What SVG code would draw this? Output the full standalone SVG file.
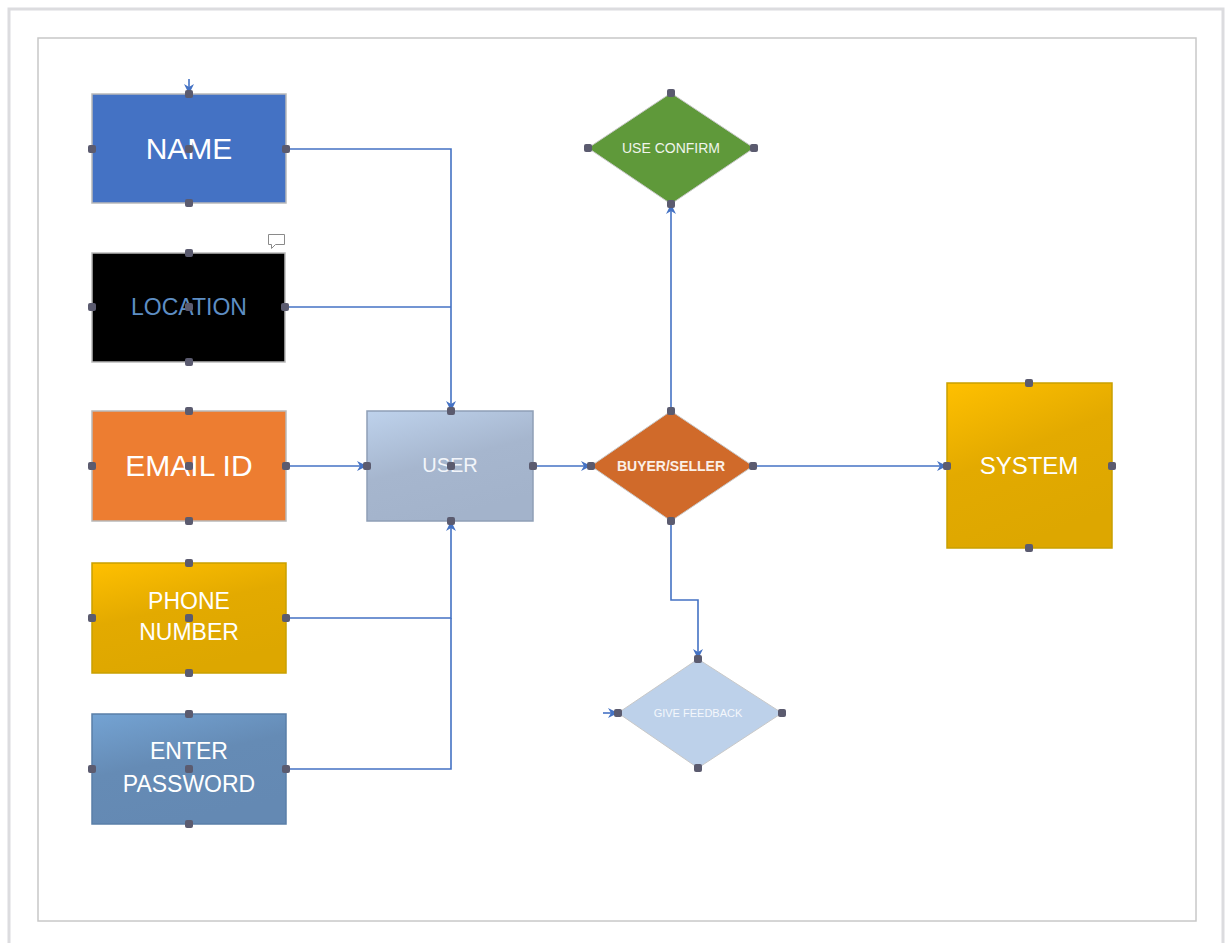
<svg xmlns="http://www.w3.org/2000/svg" width="1225" height="943" viewBox="0 0 1225 943">
<defs>
<linearGradient id="gGold" x1="0" y1="0" x2="0.4" y2="1">
<stop offset="0" stop-color="#FFC000"/><stop offset="0.5" stop-color="#E3AA00"/><stop offset="1" stop-color="#DDA700"/>
</linearGradient>
<linearGradient id="gBlue" x1="0" y1="0" x2="0.4" y2="1">
<stop offset="0" stop-color="#74A3D3"/><stop offset="0.5" stop-color="#658BB5"/><stop offset="1" stop-color="#6489B3"/>
</linearGradient>
<linearGradient id="gUser" x1="0" y1="0" x2="0.4" y2="1">
<stop offset="0" stop-color="#BED2EC"/><stop offset="0.55" stop-color="#A6B6CE"/><stop offset="1" stop-color="#A3B3CB"/>
</linearGradient>
<marker id="arr" viewBox="0 0 10 10" refX="9" refY="5" markerWidth="10" markerHeight="10" markerUnits="userSpaceOnUse" orient="auto">
<path d="M0,0 L10,5 L0,10 L3,5 Z" fill="#4472C4"/>
</marker>
<style>
.frame{fill:none;stroke:#C8C8C8;stroke-width:1.5}
.outer{fill:none;stroke:#DCDCDF;stroke-width:3}
.box{stroke:#B9B9B9;stroke-width:1.5}
.edge{fill:none;stroke:#4472C4;stroke-width:1.6}
.dot{fill:#5B5B6F}
.t{font-family:"Liberation Sans","Open Sans",Arial,sans-serif;fill:#FFFFFF;text-anchor:middle;dominant-baseline:central}
</style>
</defs>
<rect width="1225" height="943" fill="#FFFFFF"/>
<path class="outer" d="M9,943 L9,9 L1223,9 L1223,943"/>
<rect class="frame" x="38" y="38" width="1158" height="883"/>

<g id="connectors">
<path class="edge" d="M286,149 L451,149 L451,410" marker-end="url(#arr)"/>
<path class="edge" d="M285,307 L451,307"/>
<path class="edge" d="M286,466 L366,466" marker-end="url(#arr)"/>
<path class="edge" d="M286,618 L451,618 L451,522" marker-end="url(#arr)"/>
<path class="edge" d="M286,769 L451,769 L451,618"/>
<path class="edge" d="M533,466 L590,466" marker-end="url(#arr)"/>
<path class="edge" d="M671,411 L671,205" marker-end="url(#arr)"/>
<path class="edge" d="M753,466 L946,466" marker-end="url(#arr)"/>
<path class="edge" d="M671,521 L671,600 L698,600 L698,658" marker-end="url(#arr)"/>
<path class="edge" d="M189,79 L189,93" marker-end="url(#arr)"/>
<path class="edge" d="M603,713 L617,713" marker-end="url(#arr)"/>
</g>

<g id="name">
<rect class="box" x="92" y="94" width="194" height="109" fill="#4472C4"/>
<text class="t" x="189" y="148" font-size="30">NAME</text>
<rect class="dot" x="185" y="90" width="8" height="8" rx="2"/>
<rect class="dot" x="88" y="145" width="8" height="8" rx="2"/>
<rect class="dot" x="282" y="145" width="8" height="8" rx="2"/>
<rect class="dot" x="185" y="145" width="8" height="8" rx="2"/>
<rect class="dot" x="185" y="199" width="8" height="8" rx="2"/>
</g>

<g id="location">
<rect class="box" x="92" y="253" width="193" height="109" fill="#000000"/>
<text class="t" x="189" y="307" font-size="23" style="fill:#5E8EC4">LOCATION</text>
<rect class="dot" x="185" y="249" width="8" height="8" rx="2"/>
<rect class="dot" x="88" y="303" width="8" height="8" rx="2"/>
<rect class="dot" x="281" y="303" width="8" height="8" rx="2"/>
<rect class="dot" x="185" y="303" width="8" height="8" rx="2"/>
<rect class="dot" x="185" y="358" width="8" height="8" rx="2"/>
<path d="M268.5,234.5 h16 v10 h-9 l-4,4 v-4 h-3 Z" fill="#FFFFFF" stroke="#8A8A8A" stroke-width="1"/>
</g>

<g id="email">
<rect class="box" x="92" y="411" width="194" height="110" fill="#ED7D31"/>
<text class="t" x="189" y="465" font-size="30">EMAIL ID</text>
<rect class="dot" x="185" y="407" width="8" height="8" rx="2"/>
<rect class="dot" x="88" y="462" width="8" height="8" rx="2"/>
<rect class="dot" x="282" y="462" width="8" height="8" rx="2"/>
<rect class="dot" x="185" y="462" width="8" height="8" rx="2"/>
<rect class="dot" x="185" y="517" width="8" height="8" rx="2"/>
</g>

<g id="phone">
<rect class="box" x="92" y="563" width="194" height="110" fill="url(#gGold)" style="stroke:#C9A000"/>
<text class="t" x="189" y="601" font-size="23">PHONE</text>
<text class="t" x="189" y="632" font-size="23">NUMBER</text>
<rect class="dot" x="185" y="559" width="8" height="8" rx="2"/>
<rect class="dot" x="88" y="614" width="8" height="8" rx="2"/>
<rect class="dot" x="282" y="614" width="8" height="8" rx="2"/>
<rect class="dot" x="185" y="614" width="8" height="8" rx="2"/>
<rect class="dot" x="185" y="669" width="8" height="8" rx="2"/>
</g>

<g id="password">
<rect class="box" x="92" y="714" width="194" height="110" fill="url(#gBlue)" style="stroke:#5A7FA8"/>
<text class="t" x="189" y="751" font-size="23">ENTER</text>
<text class="t" x="189" y="784" font-size="23">PASSWORD</text>
<rect class="dot" x="185" y="710" width="8" height="8" rx="2"/>
<rect class="dot" x="88" y="765" width="8" height="8" rx="2"/>
<rect class="dot" x="282" y="765" width="8" height="8" rx="2"/>
<rect class="dot" x="185" y="765" width="8" height="8" rx="2"/>
<rect class="dot" x="185" y="820" width="8" height="8" rx="2"/>
</g>

<g id="user">
<rect class="box" x="367" y="411" width="166" height="110" fill="url(#gUser)" style="stroke:#8F9FB6"/>
<text class="t" x="450" y="465" font-size="20" style="fill:#F2F5FA">USER</text>
<rect class="dot" x="447" y="407" width="8" height="8" rx="2"/>
<rect class="dot" x="363" y="462" width="8" height="8" rx="2"/>
<rect class="dot" x="529" y="462" width="8" height="8" rx="2"/>
<rect class="dot" x="447" y="462" width="8" height="8" rx="2"/>
<rect class="dot" x="447" y="517" width="8" height="8" rx="2"/>
</g>

<g id="buyer-seller">
<polygon points="671,411 753,466 671,521 591,466" fill="#D06A2A" stroke="#C8C8C8" stroke-width="1"/>
<text class="t" x="671" y="466" font-size="14" font-weight="bold" style="fill:#FBEFE6">BUYER/SELLER</text>
<rect class="dot" x="667" y="407" width="8" height="8" rx="2"/>
<rect class="dot" x="587" y="462" width="8" height="8" rx="2"/>
<rect class="dot" x="749" y="462" width="8" height="8" rx="2"/>
<rect class="dot" x="667" y="517" width="8" height="8" rx="2"/>
</g>

<g id="use-confirm">
<polygon points="671,93 754,148 671,204 588,148" fill="#5F993A" stroke="#C8C8C8" stroke-width="1"/>
<text class="t" x="671" y="148" font-size="14" style="fill:#F0F5EC">USE CONFIRM</text>
<rect class="dot" x="667" y="89" width="8" height="8" rx="2"/>
<rect class="dot" x="584" y="144" width="8" height="8" rx="2"/>
<rect class="dot" x="750" y="144" width="8" height="8" rx="2"/>
<rect class="dot" x="667" y="200" width="8" height="8" rx="2"/>
</g>

<g id="give-feedback">
<polygon points="698,659 782,713 698,768 618,713" fill="#BDD1EA" stroke="#C8C8C8" stroke-width="1"/>
<text class="t" x="698" y="713" font-size="11" style="fill:#F4F7FC">GIVE FEEDBACK</text>
<rect class="dot" x="694" y="655" width="8" height="8" rx="2"/>
<rect class="dot" x="614" y="709" width="8" height="8" rx="2"/>
<rect class="dot" x="778" y="709" width="8" height="8" rx="2"/>
<rect class="dot" x="694" y="764" width="8" height="8" rx="2"/>
</g>

<g id="system">
<rect class="box" x="947" y="383" width="165" height="165" fill="url(#gGold)" style="stroke:#C9A000"/>
<text class="t" x="1029" y="465" font-size="24">SYSTEM</text>
<rect class="dot" x="1025" y="379" width="8" height="8" rx="2"/>
<rect class="dot" x="943" y="462" width="8" height="8" rx="2"/>
<rect class="dot" x="1108" y="462" width="8" height="8" rx="2"/>
<rect class="dot" x="1025" y="544" width="8" height="8" rx="2"/>
</g>
</svg>
